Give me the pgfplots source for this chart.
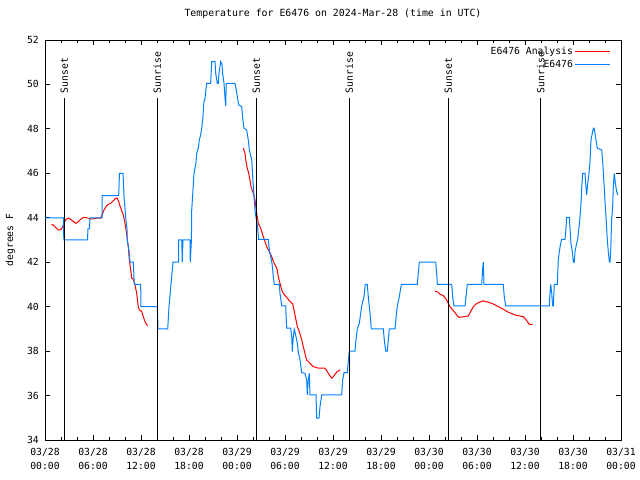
\documentclass[border=0pt]{standalone}
\usepackage{pgfplots}
\pgfplotsset{compat=1.18}
\usepackage{fontspec}
\setmainfont{DejaVu Sans Mono}
\definecolor{gpred}{RGB}{255,0,0}
\definecolor{gpblue}{RGB}{0,128,255}
\begin{document}
\begin{tikzpicture}
\useasboundingbox (0,0) rectangle (640bp,480bp);
\begin{axis}[
  at={(45bp,40bp)}, anchor=south west,
  scale only axis, width=576bp, height=400bp,
  xmin=0, xmax=72, ymin=34, ymax=52,
  xtick={0,6,...,72},
  minor xtick={0,2,...,72},
  xticklabels={{03/28\\00:00},{03/28\\06:00},{03/28\\12:00},{03/28\\18:00},{03/29\\00:00},{03/29\\06:00},{03/29\\12:00},{03/29\\18:00},{03/30\\00:00},{03/30\\06:00},{03/30\\12:00},{03/30\\18:00},{03/31\\00:00}},
  ytick={34,36,...,52},
  tick align=inside,
  major tick length=5bp, minor tick length=3bp,
  every tick/.style={black, line width=0.8bp},
  axis line style={line width=0.9bp},
  /pgf/number format/assume math mode=true,
  tick label style={font=\fontsize{9.8}{14.5}\selectfont},
  xticklabel style={align=center, inner sep=0pt, yshift=-8bp},
  yticklabel style={inner sep=0pt, xshift=-6bp},
  ylabel={degrees F},
  ylabel style={at={(axis description cs:-0.06,0.5)}, anchor=center, font=\fontsize{9.8}{12}\selectfont},
  title={Temperature for E6476 on 2024-Mar-28 (time in UTC)},
  title style={at={(axis description cs:0.5,1)}, anchor=center, yshift=20bp, inner sep=0pt, font=\fontsize{9.9}{12}\selectfont},
  unbounded coords=jump,
  legend plot pos=right,
  legend cell align=right,
  legend image code/.code={\path (0bp,0bp) -- (7bp,0bp); \draw[#1] (7bp,0bp) -- (35bp,0bp);},
  legend style={at={(rel axis cs:0.982,0.987)}, anchor=north east, draw=none, fill=none, inner sep=0pt, row sep=1.5bp,
    font=\fontsize{9.8}{12}\selectfont, nodes={inner sep=1.5bp}},
]
% Analysis (red)
\addplot[gpred, line width=1bp] coordinates {
(0.75,43.68) (1.04,43.68) (1.34,43.56) (1.67,43.45) (1.96,43.45) (2.21,43.6) (2.375,43.78) (2.625,43.93) (2.92,43.98) (3.21,43.93) (3.54,43.83) (3.875,43.75) (4.16,43.83) (4.46,43.93) (4.79,44.02) (5.21,44.0) (5.625,43.95) (6.04,43.95) (6.46,43.98) (6.96,43.98) (7.125,44.13) (7.375,44.35) (7.625,44.5) (7.91,44.6) (8.21,44.65) (8.54,44.77) (8.875,44.88) (9.04,44.88) (9.21,44.73) (9.375,44.53) (9.59,44.32) (9.79,44.13) (10.0,43.75) (10.125,43.48) (10.29,43.0) (10.41,42.7) (10.54,42.1) (10.71,41.65) (10.84,41.28) (11.04,41.23) (11.25,40.98) (11.46,40.6) (11.66,40.0) (11.79,39.85) (12.09,39.78) (12.29,39.55) (12.5,39.33) (12.71,39.18) (12.875,39.15)
(18,nan)
(24.79,47.13) (25.0,46.9) (25.125,46.53) (25.29,46.23) (25.46,46.0) (25.625,45.7) (25.75,45.4) (25.96,45.18) (26.09,45.03) (26.25,44.8) (26.46,44.2) (26.66,43.75) (26.875,43.6) (27.09,43.38) (27.29,43.15) (27.5,42.93) (27.71,42.7) (28.04,42.48) (28.34,42.25) (28.54,42.03) (28.875,41.8) (29.04,41.65) (29.16,41.35) (29.375,41.05) (29.59,40.75) (29.79,40.6) (30.125,40.45) (30.41,40.33) (30.625,40.23) (30.96,40.12) (31.125,39.85) (31.375,39.4) (31.54,39.1) (31.79,38.88) (32.09,38.5) (32.29,38.2) (32.54,37.83) (32.71,37.6) (32.91,37.53) (33.21,37.42) (33.54,37.3) (33.96,37.25) (34.375,37.23) (35.0,37.23) (35.29,37.08) (35.54,36.93) (35.84,36.78) (36.04,36.85) (36.25,36.96) (36.54,37.08) (36.875,37.15)
(42,nan)
(48.75,40.7) (49.16,40.65) (49.375,40.56) (49.79,40.5) (50.125,40.35) (50.41,40.15) (50.625,40.0) (50.96,39.85) (51.25,39.73) (51.54,39.58) (51.79,39.52) (52.375,39.55) (52.91,39.58) (53.21,39.78) (53.54,40.0) (53.875,40.12) (54.29,40.2) (54.79,40.26) (55.41,40.2) (56.04,40.12) (56.66,40.0) (57.29,39.88) (57.91,39.75) (58.46,39.67) (58.96,39.6) (59.375,39.58) (59.79,39.55) (60.09,39.43) (60.29,39.33) (60.54,39.2) (60.96,39.2)
};
\addlegendentry{E6476 Analysis}
% Observations (blue)
\addplot[gpblue, line width=1bp] coordinates {
(0,44) (2.31,44) (2.35,43) (5.31,43) (5.375,43.5) (5.56,43.5) (5.625,44) (7.125,44) (7.15,45) (9.21,45) (9.31,46) (9.75,46) (9.875,45) (10.09,44) (10.25,43.5) (10.29,43) (10.5,42.5) (10.625,42) (11.04,42) (11.16,41) (11.96,41) (12.0,40) (14.04,40) (14.125,39) (15.34,39) (15.5,40) (15.75,41) (16.0,42) (16.69,42) (16.71,43) (17.09,43) (17.16,42) (17.25,43) (18.125,43) (18.16,42) (18.3,43)
(18.34,44.35) (18.46,45.03) (18.625,46.0) (18.75,46.23) (18.875,46.48) (18.96,46.9) (19.16,47.13) (19.29,47.5) (19.46,47.73) (19.59,48.03) (19.71,48.4) (19.875,49.23) (20.0,49.38) (20.21,50.05) (20.71,50.05) (20.84,51.03) (21.25,51.03) (21.34,50.5) (21.54,50.05) (21.66,50.05) (21.75,50.5) (21.96,51.03) (22.125,50.9) (22.21,50.5) (22.375,50.05) (22.5,49.38) (22.59,49.03) (22.66,50.05) (23.75,50.05) (23.875,49.83) (24.04,49.45) (24.21,49.08) (24.59,49.0) (24.71,48.48) (24.875,48.03) (25.21,47.95) (25.41,47.5) (25.54,47.05) (25.84,46.6) (25.96,45.85) (26.125,44.95) (26.29,44.2) (26.54,43.68) (26.71,43.03) (27.91,43.03)
(28.04,42.55) (28.21,42.25) (28.375,41.95) (28.54,41.35) (28.66,41.0) (29.29,41.0) (29.375,40.6) (29.59,40.03) (30.09,40.03) (30.21,39.03) (30.71,39.03) (30.84,38.65) (30.91,37.98) (31.04,38.65) (31.16,38.98) (31.375,38.65) (31.54,38.35) (31.66,37.98) (31.875,37.6) (32.09,37.03) (32.5,37.0) (32.71,36.7) (32.79,36.03) (32.91,36.7) (33.04,37.0) (33.125,36.03) (33.875,36.03) (33.96,34.98) (34.25,34.98) (34.375,35.5) (34.59,36.03) (37.09,36.03) (37.21,36.7) (37.375,37.03) (37.79,37.03) (37.96,37.75) (38.04,38.0)
(38.75,38.0) (38.875,38.5) (39.04,39.0) (39.29,39.25) (39.46,39.7) (39.59,40.03) (39.875,40.45) (40.04,41.0) (40.29,41.0) (40.41,40.45) (40.625,39.7) (40.79,39.0) (42.29,39.0) (42.41,38.5) (42.59,38.0) (42.79,38.0) (42.91,38.5) (43.04,39.0) (43.75,39.0) (43.875,39.48) (44.04,40.03) (44.29,40.45) (44.54,41.0) (46.54,41.0) (46.66,41.5) (46.79,42.0) (48.84,42.0) (48.96,41.5) (49.04,41.0) (50.84,41.0) (50.96,40.45) (51.125,40.03) (52.5,40.03) (52.625,40.45) (52.79,41.0) (54.59,41.0) (54.71,41.73) (54.79,42.0) (54.875,41.0) (57.29,41.0) (57.41,40.45) (57.59,40.03) (63.04,40.03)
(63.125,40.6) (63.21,41.0) (63.34,40.6) (63.46,40.03) (63.54,40.03) (63.66,41.0) (64.04,41.0) (64.16,42.1) (64.29,42.48) (64.46,42.85) (64.59,43.03) (65.0,43.03) (65.125,43.53) (65.21,44.02) (65.54,44.02) (65.625,43.53) (65.75,42.85) (65.91,42.48) (66.04,42.0) (66.16,42.0) (66.25,42.48) (66.46,42.85) (66.59,43.03) (66.71,43.45) (66.875,44.02) (67.0,44.65) (67.125,45.55) (67.21,46.0) (67.5,46.0) (67.625,45.33) (67.71,45.03) (67.84,45.55) (67.96,45.85) (68.125,46.53) (68.25,47.5) (68.41,47.8) (68.54,48.03) (68.625,48.03) (68.75,47.8) (68.875,47.5) (69.04,47.13) (69.59,47.05) (69.71,46.53) (69.875,45.55) (70.04,44.5) (70.125,44.05) (70.29,43.0) (70.41,42.48) (70.54,42.03) (70.625,42.0) (70.71,42.48) (70.84,43.98) (70.96,44.5) (71.04,45.4) (71.16,46.0) (71.29,45.55) (71.46,45.18) (71.59,45.03)
};
\addlegendentry{E6476}
% Sunset / sunrise markers
\addplot[black, line width=1bp, forget plot] coordinates {(2.42,34) (2.42,49.37)};
\addplot[black, line width=1bp, forget plot] coordinates {(14.04,34) (14.04,49.37)};
\addplot[black, line width=1bp, forget plot] coordinates {(26.4,34) (26.4,49.37)};
\addplot[black, line width=1bp, forget plot] coordinates {(38.04,34) (38.04,49.37)};
\addplot[black, line width=1bp, forget plot] coordinates {(50.4,34) (50.4,49.37)};
\addplot[black, line width=1bp, forget plot] coordinates {(61.98,34) (61.98,49.37)};
\node[rotate=90, anchor=west, inner sep=0pt, font=\fontsize{9.8}{12}\selectfont] at (axis cs:2.42,49.6) {Sunset};
\node[rotate=90, anchor=west, inner sep=0pt, font=\fontsize{9.8}{12}\selectfont] at (axis cs:14.04,49.6) {Sunrise};
\node[rotate=90, anchor=west, inner sep=0pt, font=\fontsize{9.8}{12}\selectfont] at (axis cs:26.4,49.6) {Sunset};
\node[rotate=90, anchor=west, inner sep=0pt, font=\fontsize{9.8}{12}\selectfont] at (axis cs:38.04,49.6) {Sunrise};
\node[rotate=90, anchor=west, inner sep=0pt, font=\fontsize{9.8}{12}\selectfont] at (axis cs:50.4,49.6) {Sunset};
\node[rotate=90, anchor=west, inner sep=0pt, font=\fontsize{9.8}{12}\selectfont] at (axis cs:61.98,49.6) {Sunrise};
\end{axis}
\end{tikzpicture}
\end{document}
